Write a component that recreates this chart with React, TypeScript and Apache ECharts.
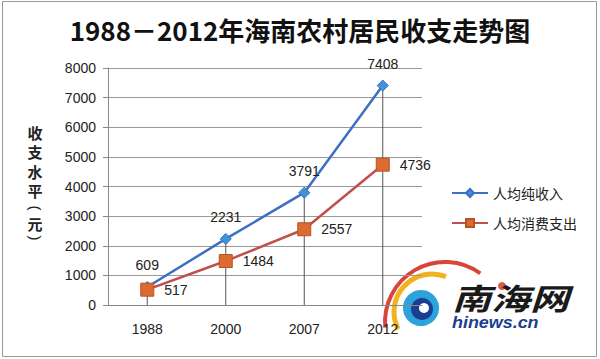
import React, { useEffect, useRef } from "react";
import * as echarts from "echarts";

const categories = ["1988", "2000", "2007", "2012"];
const income = [609, 2231, 3791, 7408];
const expense = [517, 1484, 2557, 4736];
const seriesNames = ["人均纯收入", "人均消费支出"];
const yTicks = { min: 0, max: 8000, interval: 1000 };
const yTitleChars = ["收", "支", "水", "平", "(", "元", ")"];
const yTitleRows = [132, 151.5, 171, 190, 208, 223, 238];

const FONT = "'Liberation Sans', 'Noto Sans CJK SC', sans-serif";
const CJK = "'Noto Sans CJK SC', sans-serif";

export default function App() {
  const ref = useRef<HTMLDivElement>(null);
  useEffect(() => {
    if (!ref.current) return;
    const chart = echarts.init(ref.current, undefined, { renderer: "svg" });
    const drop = income.map((v, i) => Math.max(v, expense[i]));
    const yTitle = yTitleChars.map((c, i) => {
      const paren = c === "(" || c === ")";
      const fs = paren ? 15 : 15;
      return {
        type: "text",
        x: 35,
        y: yTitleRows[i],
        rotation: paren ? -Math.PI / 2 : 0,
        style: {
          text: c,
          fontSize: fs,
          lineHeight: fs,
          fontWeight: paren ? "normal" : "bold",
          fill: "#222",
          fontFamily: paren ? "'Liberation Sans', sans-serif" : CJK,
          align: "center",
          verticalAlign: "middle",
        },
      };
    });
    chart.setOption({
      animation: false,
      backgroundColor: "#fff",
      textStyle: { fontFamily: FONT },
      title: {
        text: "1988－2012年海南农村居民收支走势图",
        left: "center",
        top: 11,
        textStyle: { fontSize: 26, fontWeight: "bold", color: "#111", fontFamily: CJK },
      },
      grid: { left: 108, right: 178, top: 68, bottom: 54 },
      legend: {
        orient: "vertical",
        left: 446,
        top: 181,
        itemWidth: 36,
        itemHeight: 10,
        itemGap: 16,
        data: seriesNames,
        textStyle: { fontSize: 14, color: "#222", fontFamily: CJK },
      },
      xAxis: {
        type: "category",
        data: categories,
        boundaryGap: true,
        axisLine: { lineStyle: { color: "#888" } },
        axisTick: { show: false },
        axisLabel: { fontSize: 14, color: "#222", margin: 17 },
      },
      yAxis: {
        type: "value",
        min: yTicks.min,
        max: yTicks.max,
        interval: yTicks.interval,
        axisLine: { show: true, lineStyle: { color: "#888" } },
        axisTick: { show: true, length: 5, lineStyle: { color: "#888" } },
        splitLine: { lineStyle: { color: "#999" } },
        axisLabel: { fontSize: 14, color: "#222", margin: 12, formatter: (v: number) => String(v) },
      },
      series: [
        {
          type: "bar",
          data: drop,
          barWidth: 1,
          itemStyle: { color: "#555" },
          silent: true,
          z: 1,
        },
        {
          name: seriesNames[0],
          type: "line",
          data: income,
          symbol: "diamond",
          symbolSize: 11,
          lineStyle: { color: "#3D6FC4", width: 2.5 },
          itemStyle: { color: "#3F93D8", borderColor: "#3D6FC4", borderWidth: 1 },
          label: { show: true, position: "top", distance: 9, fontSize: 14, color: "#222" },
          z: 3,
        },
        {
          name: seriesNames[1],
          type: "line",
          data: expense,
          symbol: "rect",
          symbolSize: 13,
          lineStyle: { color: "#C0504D", width: 2.5 },
          itemStyle: { color: "#DD6A30", borderColor: "#B5532A", borderWidth: 1 },
          label: { show: true, position: "right", distance: 10, fontSize: 14, color: "#222" },
          z: 4,
        },
      ],
      graphic: [
        {
          type: "rect",
          shape: { x: 2.5, y: 1.5, width: 594, height: 355 },
          style: { fill: "none", stroke: "#999", lineWidth: 1 },
          silent: true,
        },
        ...yTitle,
        // logo
        {
          type: "arc",
          shape: { cx: 445, cy: 322, r: 60, startAngle: Math.PI * 0.97, endAngle: Math.PI * 1.7 },
          style: { stroke: "#D9453A", lineWidth: 4, fill: "none" },
        },
        {
          type: "arc",
          shape: { cx: 432, cy: 312, r: 38, startAngle: Math.PI * 0.85, endAngle: Math.PI * 1.62 },
          style: { stroke: "#F2B21E", lineWidth: 5, fill: "none" },
        },
        {
          type: "circle",
          shape: { cx: 421, cy: 308, r: 18 },
          style: { fill: "#2CA3DD" },
        },
        {
          type: "circle",
          shape: { cx: 422, cy: 309, r: 11 },
          style: { fill: "#1B3F8F" },
        },
        {
          type: "circle",
          shape: { cx: 424, cy: 308, r: 5 },
          style: { fill: "#ffffff" },
        },
        {
          type: "circle",
          shape: { cx: 502, cy: 286, r: 4 },
          style: { fill: "#E0574A" },
        },
        {
          type: "text",
          x: 452,
          y: 282,
          scaleX: 1.3,
          style: {
            text: "南海网",
            fontSize: 30,
            fontWeight: "bold",
            fontStyle: "italic",
            fill: "#1a1a1a",
            fontFamily: CJK,
            verticalAlign: "top",
            lineHeight: 30,
          },
        },
        {
          type: "text",
          x: 452,
          y: 315,
          scaleX: 1.12,
          style: {
            text: "hinews.cn",
            fontSize: 16,
            fontWeight: "bold",
            fontStyle: "italic",
            fill: "#1B3F8F",
            fontFamily: "'Liberation Sans', sans-serif",
            verticalAlign: "top",
            lineHeight: 16,
          },
        },
      ],
    });
    return () => chart.dispose();
  }, []);
  return <div ref={ref} style={{ width: 600, height: 359, position: "fixed", left: 0, top: 0 }} />;
}
